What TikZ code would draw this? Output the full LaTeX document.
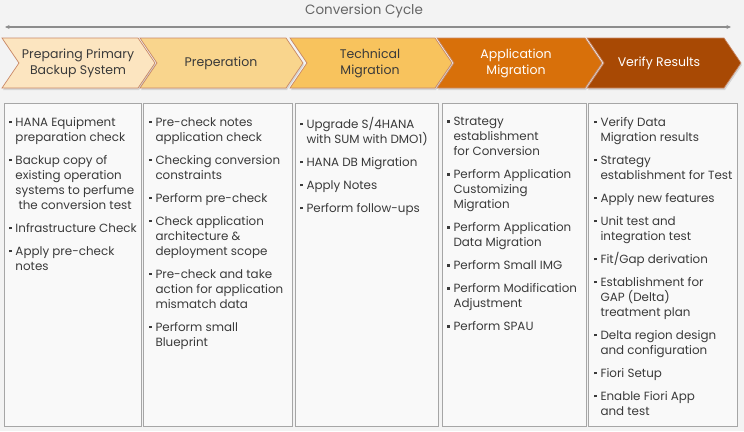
\documentclass[tikz,border=0pt]{standalone}
\usepackage{fontspec}
\setmainfont{Poppins}
\usetikzlibrary{arrows.meta, shadows}

\definecolor{bgcol}{HTML}{F3F3F3}
\definecolor{boxfill}{HTML}{F9F9F9}
\definecolor{boxline}{HTML}{A6A6A6}
\definecolor{arrowgray}{HTML}{8C8C8C}
\definecolor{titlegray}{HTML}{666666}
\definecolor{txtdark}{HTML}{3A3A3A}
\definecolor{phline}{HTML}{C98866}
\definecolor{phA}{HTML}{FCE5C0}
\definecolor{phB}{HTML}{F9D58D}
\definecolor{phC}{HTML}{F8C35D}
\definecolor{phD}{HTML}{D8700A}
\definecolor{phE}{HTML}{A84904}

% bullet and hanging indent for the lists
\newcommand{\blt}{\makebox[6.3pt][l]{\raisebox{3pt}{\rule{2.4pt}{2.4pt}}}}
\newcommand{\ind}{\hspace*{6.3pt}}

\begin{document}
\begin{tikzpicture}[x=1pt, y=-1pt,
    phase/.style={align=center, inner sep=0pt, font=\fontsize{12.5}{16}\selectfont},
    box/.style={draw=boxline, fill=boxfill, line width=0.8pt, anchor=north west, minimum height=323pt, inner sep=0pt},
    list/.style={anchor=north west, align=left, inner sep=0pt, font=\fontsize{11.9}{15}\selectfont, text=txtdark},
    arr/.style={{Stealth[length=1.6mm, width=1.4mm]}-{Stealth[length=1.6mm, width=1.4mm]}, line width=1.2pt, draw=arrowgray}]

\fill[bgcol] (0,0) rectangle (744,431);
\useasboundingbox (0,0) rectangle (744,431);

% title and cycle arrow
\node[font=\fontsize{13.5}{15}\selectfont, text=titlegray] (title) at (364,11) {Conversion Cycle};
\coordinate (al) at (5,27);
\coordinate (ar) at (731,27);
\draw[arr] (al) -- (ar);

% phases
\foreach \xl/\xr/\xc/\fc/\tc/\nm/\txt in {
    2/138/78/phA/txtdark/pb/{Preparing Primary\\Backup System},
    140/286/221/phB/txtdark/pr/{Preperation},
    290/435/370/phC/txtdark/tm/{Technical\\Migration},
    437/585/516/phD/white/am/{Application\\Migration},
    587/724/659/phE/white/vr/{Verify Results}}{
  \filldraw[draw=phline, line width=0.7pt, fill=\fc,
      drop shadow={shadow xshift=1pt, shadow yshift=-2pt, opacity=0.25}]
    (\xl,38) -- (\xr,38) -- (\xr+17,63) -- (\xr,88) -- (\xl,88) -- (\xl+17,63) -- cycle;
  \node[phase, text=\tc] (\nm) at (\xc,63) {\txt};
}

% task boxes
\node[box, minimum width=137pt] (b1) at (4,103) {};
\node[box, minimum width=149pt] (b2) at (143,103) {};
\node[box, minimum width=143pt] (b3) at (295,103) {};
\node[box, minimum width=144pt] (b4) at (442,103) {};
\node[box, minimum width=149pt] (b5) at (588,103) {};

\node[list] (l1) at (9,117) {\blt HANA Equipment\\\ind preparation check\\[8pt]
  \blt Backup copy of\\\ind existing operation\\\ind systems to perfume\\\ind\hspace*{3pt}the conversion test\\[8pt]
  \blt Infrastructure Check\\[8pt]
  \blt Apply pre-check\\\ind notes};
\node[list] (l2) at (149,117) {\blt Pre-check notes\\\ind application check\\[8pt]
  \blt Checking conversion\\\ind constraints\\[8pt]
  \blt Perform pre-check\\[8pt]
  \blt Check application\\\ind architecture \&\\\ind deployment scope\\[8pt]
  \blt Pre-check and take\\\ind action for application\\\ind mismatch data\\[8pt]
  \blt Perform small\\\ind Blueprint};
\node[list] (l3) at (300,117) {\blt Upgrade S/4HANA\\\ind with SUM with DMO1)\\[8pt]
  \blt HANA DB Migration\\[8pt]
  \blt Apply Notes\\[8pt]
  \blt Perform follow-ups};
\node[list] (l4) at (447,117) {\blt Strategy\\\ind establishment\\\ind for Conversion\\[8pt]
  \blt Perform Application\\\ind Customizing\\\ind Migration\\[8pt]
  \blt Perform Application\\\ind Data Migration\\[8pt]
  \blt Perform Small IMG\\[8pt]
  \blt Perform Modification\\\ind Adjustment\\[8pt]
  \blt Perform SPAU};
\node[list] (l5) at (594,117) {\blt Verify Data\\\ind Migration results\\[8pt]
  \blt Strategy\\\ind establishment for Test\\[8pt]
  \blt Apply new features\\[8pt]
  \blt Unit test and\\\ind integration test\\[8pt]
  \blt Fit/Gap derivation\\[8pt]
  \blt Establishment for\\\ind GAP (Delta)\\\ind treatment plan\\[8pt]
  \blt Delta region design\\\ind and configuration\\[8pt]
  \blt Fiori Setup\\[8pt]
  \blt Enable Fiori App\\\ind and test};
\end{tikzpicture}
\end{document}
